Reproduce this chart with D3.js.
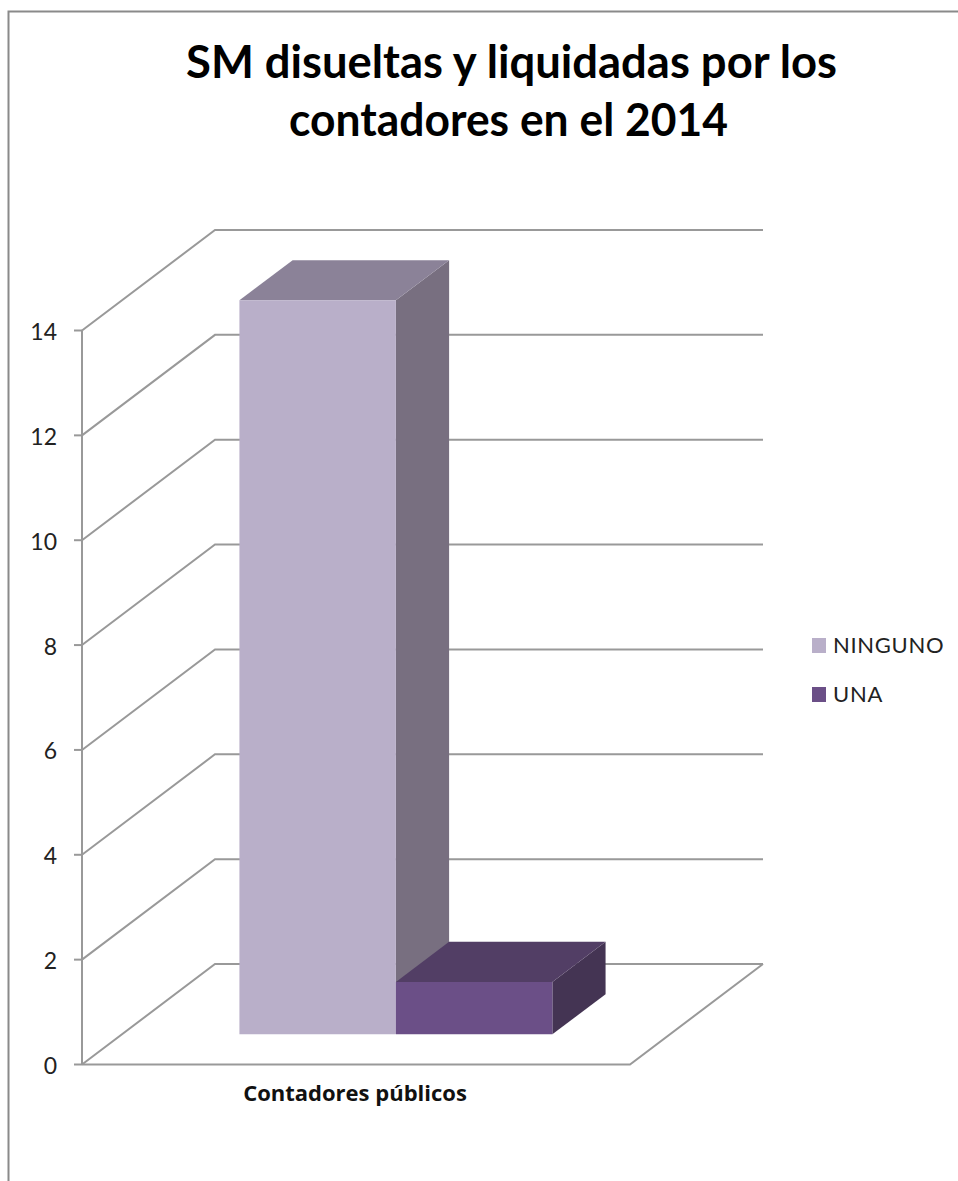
<!DOCTYPE html>
<html>
<head>
<meta charset="utf-8">
<style>
html,body{margin:0;padding:0;background:#fff;overflow:hidden}
svg{display:block}
text{font-family:Lato,"Open Sans",sans-serif;fill:#222}
</style>
<script src="https://cdn.jsdelivr.net/npm/d3@7"></script>
</head>
<body>
<svg id="chart" width="958" height="1181"></svg>
<script>
// Values
const titleLines = ["SM disueltas y liquidadas por los", "contadores en el 2014"];
const category = "Contadores públicos";
const seriesNames = ["NINGUNO", "UNA"];
const seriesValues = [14, 1];
const yTicks = [0, 2, 4, 6, 8, 10, 12, 14];

// Colours per series: front, top and side faces
const faceColors = [
  {front: "#b9afc9", top: "#8b8298", side: "#786f80"},
  {front: "#6b4f87", top: "#523e65", side: "#443453"}
];
const axisColor = "#999999";

const svg = d3.select("#chart");

// Outer chart frame, open at the right and bottom edges of the page
svg.append("path")
  .attr("d", d3.line()([[8.5, 1181], [8.5, 11.5], [958, 11.5]]))
  .attr("fill", "none").attr("stroke", "#8a8a8a").attr("stroke-width", 2);

// Scales of the front plane, plus the oblique depth projection
const y = d3.scaleLinear().domain([0, 14]).range([1064.5, 330.5]);
const x = d3.scaleBand().domain(seriesNames).range([82, 630])
  .paddingInner(0).paddingOuter(0.751);
const depthX = d3.scaleLinear().domain([0, 1]).range([0, 133]);
const depthY = d3.scaleLinear().domain([0, 1]).range([0, -100.5]);
const project = (px, value, depth) => [px + depthX(depth), y(value) + depthY(depth)];
const poly = d3.line().curve(d3.curveLinearClosed);
const open = d3.line();

const lineStyle = sel => sel.attr("fill", "none").attr("stroke", axisColor).attr("stroke-width", 2);

// Gridlines: along the side wall, then across the back wall
svg.append("g").selectAll("path").data(yTicks).join("path")
  .attr("d", t => open([project(82, t, 0), project(82, t, 1), project(630, t, 1)]))
  .call(lineStyle);

// Floor edges
svg.append("path")
  .attr("d", open([project(82, 0, 0), project(630, 0, 0), project(630, 0, 1)]))
  .call(lineStyle);

// Value axis
svg.append("path").attr("d", open([project(82, 14, 0), project(82, 0, 0)])).call(lineStyle);
svg.append("g").selectAll("path").data(yTicks).join("path")
  .attr("d", t => open([[74, y(t)], [82, y(t)]]))
  .call(lineStyle);
svg.append("g").selectAll("text").data(yTicks).join("text")
  .attr("x", 57).attr("y", t => y(t) + 9.5)
  .attr("text-anchor", "end")
  .style("font-size", "23px")
  .text(t => t);

// Bars: each is a box from depth 0.3 to depth 0.7
const depthNear = 0.3, depthFar = 0.7;
const bars = seriesNames.map((name, i) => ({name, value: seriesValues[i], colors: faceColors[i]}));
const bar = svg.append("g").selectAll("g").data(bars).join("g");
const x0 = d => x(d.name), x1 = d => x(d.name) + x.bandwidth();
bar.append("path").attr("fill", d => d.colors.side).attr("d", d => poly([
  project(x1(d), 0, depthNear), project(x1(d), 0, depthFar),
  project(x1(d), d.value, depthFar), project(x1(d), d.value, depthNear)]));
bar.append("path").attr("fill", d => d.colors.top).attr("d", d => poly([
  project(x0(d), d.value, depthNear), project(x1(d), d.value, depthNear),
  project(x1(d), d.value, depthFar), project(x0(d), d.value, depthFar)]));
bar.append("path").attr("fill", d => d.colors.front).attr("d", d => poly([
  project(x0(d), 0, depthNear), project(x1(d), 0, depthNear),
  project(x1(d), d.value, depthNear), project(x0(d), d.value, depthNear)]));

// Category label
svg.append("text").attr("x", 355).attr("y", 1101)
  .attr("text-anchor", "middle")
  .style("font-family", "'Open Sans',sans-serif")
  .style("font-size", "22px").style("font-weight", 700)
  .style("fill", "#111")
  .text(category);

// Title
const titleWidths = [651, 439];
svg.append("g").selectAll("text").data(titleLines).join("text")
  .attr("x", (d, i) => [511.5, 508.5][i]).attr("y", (d, i) => 78 + i * 57.5)
  .attr("text-anchor", "middle")
  .attr("textLength", (d, i) => titleWidths[i])
  .attr("lengthAdjust", "spacingAndGlyphs")
  .style("font-size", "45px").style("font-weight", 700)
  .style("fill", "#000")
  .text(d => d);

// Legend
const legendY = d3.scalePoint().domain(seriesNames).range([645.5, 694.5]);
const legend = svg.append("g").selectAll("g").data(bars).join("g");
legend.append("rect")
  .attr("x", 812).attr("y", d => legendY(d.name) - 7.5)
  .attr("width", 14).attr("height", 15)
  .attr("fill", d => d.colors.front);
legend.append("text")
  .attr("x", 833).attr("y", d => legendY(d.name) + 7.5)
  .style("font-size", "22px").style("letter-spacing", "0.7px")
  .text(d => d.name);
</script>
</body>
</html>
